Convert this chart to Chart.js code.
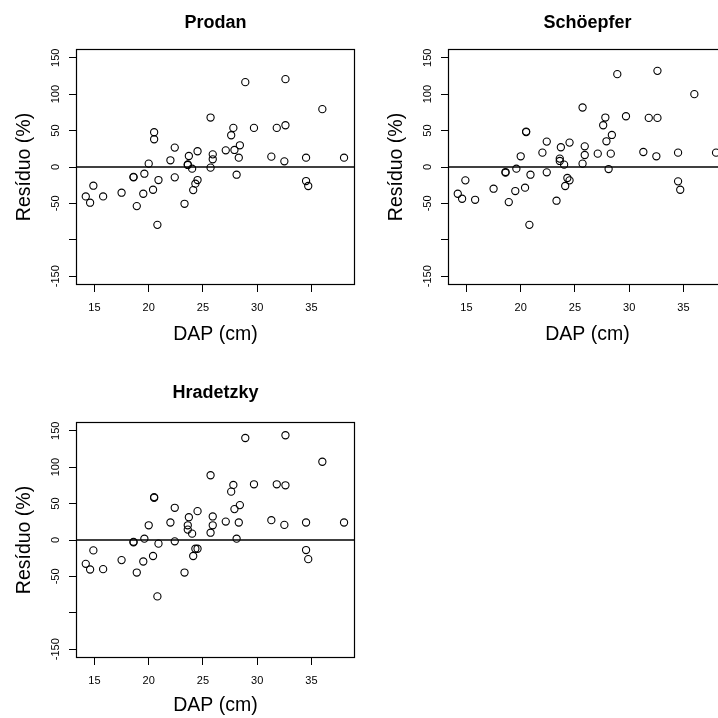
<!DOCTYPE html>
<html>
<head>
<meta charset="utf-8">
<script src="https://cdn.jsdelivr.net/npm/chart.js@4/dist/chart.umd.min.js"></script>
<style>
html,body{margin:0;padding:0;background:#fff;width:718px;height:718px;overflow:hidden;position:relative}
canvas{position:absolute}
</style>
</head>
<body>
<canvas id="c1" width="360" height="347" style="left:0px;top:0px"></canvas>
<canvas id="c2" width="360" height="347" style="left:372px;top:0px"></canvas>
<canvas id="c3" width="360" height="347" style="left:0px;top:373px"></canvas>
<script>
// DAP (cm) of the trees — shared by the three panels
const dap = [14.2, 14.6, 14.9, 15.8, 17.5, 18.6, 18.6, 18.9, 19.5, 19.6, 20.0, 20.4, 20.5, 20.5, 20.8, 20.9,
  22.0, 22.4, 22.4, 23.3, 23.7, 23.6, 23.6, 24.0, 24.1, 24.3, 24.5, 24.5, 25.7, 25.7, 25.9, 25.9,
  27.1, 27.6, 27.8, 27.9, 28.1, 28.3, 28.4, 28.9, 29.7, 31.3, 31.8, 32.5, 32.6, 32.6, 34.5, 34.5, 34.7, 36.0, 38.0];

const residProdan = [-40.4, -49, -25.7, -40.4, -35.3, -14.2, -13.6, -53.7, -36.7, -9.2, 4.6, -31.2, 47.7, 38.1, -79.4, -17.9,
  9.2, 26.6, -14.2, -50.5, 15.1, 2.8, 3.6, -2.3, -31.7, -22.9, -17.9, 21.6, -0.9, 67.9, 10.6, 17.4,
  22.9, 43.6, 53.7, 23.4, -10.6, 12.8, 29.8, 116.5, 53.7, 14.2, 53.7, 7.8, 120.6, 57.3, 12.8, -19.3, -26.1, 79.4, 12.8];

const residSchoepfer = [-36.7, -43.6, -18.3, -45, -29.8, -6.9, -7.8, -48.2, -33, -2.3, 14.7, -28.4, 48.6, 48.0, -79.4, -10.6,
  19.7, 34.9, -7.3, -46.3, 27.1, 11.5, 8.3, 3.2, -26.1, -15.1, -18.3, 33.5, 4.6, 81.7, 16.5, 28.4,
  18.3, 57.3, 67.9, 35.3, -2.8, 18.3, 44, 127.5, 69.7, 20.6, 67.4, 14.7, 132, 67.4, 19.7, -19.7, -31.2, 100, 19.7];

const residHradetzky = [-32.7, -40.5, -14.3, -40, -27.6, -2.5, -3.3, -44.7, -29.5, 1.8, 20.2, -22, 58.9, 57.8, -77.4, -5,
  24, 44.2, -1.8, -44.7, 31.3, 20.2, 14.3, 8.7, -22, -12, -12, 39.6, 10, 88.9, 20.2, 32.3,
  25.3, 66.4, 75.6, 42.4, 1.8, 24, 47.9, 140, 76.5, 27.2, 76.5, 20.7, 143.8, 75.1, 24, -13.8, -26.3, 107.4, 24];

const xTicks = [15, 20, 25, 30, 35];
const yTicks = [-150, -100, -50, 0, 50, 100, 150];
const yTickLabelsHidden = [-100];
const xLimits = [13.3, 39.0];
const yLimits = [-162, 162];
const panelTitles = ['Prodan', 'Schöepfer', 'Hradetzky'];
const xLabel = 'DAP (cm)';
const yLabel = 'Resíduo (%)';

const FONT = "'Liberation Sans', Arial, Helvetica, sans-serif";
Chart.defaults.font.family = FONT;
Chart.defaults.color = '#000';

const boxPlugin = {
  id: 'rbox',
  afterDatasetsDraw(chart) {
    const {ctx, chartArea: a} = chart;
    ctx.save();
    ctx.strokeStyle = '#000';
    ctx.lineWidth = 1.2;
    ctx.strokeRect(Math.round(a.left) + 0.5, Math.round(a.top) + 0.5,
      Math.round(a.right) - Math.round(a.left) - 1, Math.round(a.bottom) - Math.round(a.top) - 1);
    ctx.restore();
  }
};

function makePanel(id, title, resid, titlePad, xTitlePad) {
  const pts = dap.map((x, i) => ({x: x, y: resid[i]}));
  return new Chart(document.getElementById(id), {
    type: 'scatter',
    data: {
      datasets: [
        {
          type: 'line',
          data: [{x: xLimits[0], y: 0}, {x: xLimits[1], y: 0}],
          borderColor: '#000', borderWidth: 1.3, pointRadius: 0, fill: false
        },
        {
          data: pts,
          pointStyle: 'circle', pointRadius: 3.6, borderWidth: 1.1,
          borderColor: '#000', backgroundColor: 'rgba(0,0,0,0)'
        }
      ]
    },
    options: {
      responsive: false, animation: false, events: [],
      layout: {padding: {left: 0, right: 4, top: 0, bottom: 0}},
      plugins: {
        legend: {display: false}, tooltip: {enabled: false},
        title: {
          display: true, text: title, fullSize: false, color: '#000',
          font: {family: FONT, size: 18, weight: 'bold'},
          padding: titlePad
        }
      },
      scales: {
        x: {
          type: 'linear', min: xLimits[0], max: xLimits[1],
          afterBuildTicks: s => { s.ticks = xTicks.map(v => ({value: v})); },
          afterFit: s => { s.height = 62; },
          ticks: {font: {size: 11}, color: '#000', padding: 9, autoSkip: false, maxRotation: 0,
                  callback: v => String(v)},
          grid: {drawOnChartArea: false, drawTicks: true, tickLength: 7, color: '#000', lineWidth: 1},
          border: {display: false},
          title: {display: true, text: xLabel, color: '#000', font: {size: 19.5}, padding: xTitlePad}
        },
        y: {
          type: 'linear', min: yLimits[0], max: yLimits[1],
          afterBuildTicks: s => { s.ticks = yTicks.map(v => ({value: v})); },
          afterFit: s => { s.width = 76; },
          ticks: {font: {size: 11}, color: '#000', padding: 2, autoSkip: false,
                  minRotation: 90, maxRotation: 90, crossAlign: 'center',
                  callback: v => yTickLabelsHidden.includes(v) ? '' : String(v)},
          grid: {drawOnChartArea: false, drawTicks: true, tickLength: 7, color: '#000', lineWidth: 1},
          border: {display: false},
          title: {display: true, text: yLabel, color: '#000', font: {size: 19.5}, padding: {top: 13.3, bottom: 0}}
        }
      }
    },
    plugins: [boxPlugin]
  });
}

makePanel('c1', panelTitles[0], residProdan, {top: 11.9, bottom: 15.5}, {top: 0, bottom: 0.5});
makePanel('c2', panelTitles[1], residSchoepfer, {top: 11.9, bottom: 15.5}, {top: 0, bottom: 0.5});
makePanel('c3', panelTitles[2], residHradetzky, {top: 9.5, bottom: 17.9}, {top: 0, bottom: 2.5});
</script>
</body>
</html>
